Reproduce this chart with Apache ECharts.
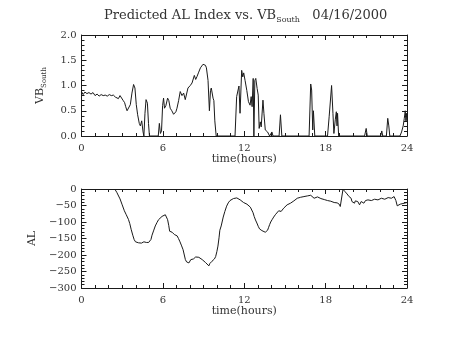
<!DOCTYPE html>
<html>
<head>
<meta charset="utf-8">
<script src="https://cdn.jsdelivr.net/npm/echarts@6/dist/echarts.min.js"></script>
<style>
  html, body { margin: 0; padding: 0; background: #fff; }
  #chart { width: 454px; height: 341px; }
</style>
</head>
<body>
<div id="chart"></div>
<script>
// Southward IMF component (VB_South), hours since 00 UT
const vbHours = [
  0.00, 0.12, 0.25, 0.40, 0.55, 0.70, 0.85, 1.00, 1.15, 1.30, 1.45, 1.60, 1.75, 1.90, 2.05, 2.20,
  2.35, 2.50, 2.62, 2.72, 2.84, 2.95, 3.08, 3.18, 3.26, 3.36, 3.48, 3.60, 3.72, 3.84, 3.94, 4.04,
  4.14, 4.26, 4.34, 4.44, 4.54, 4.60, 4.68, 4.76, 4.86, 4.94, 5.01, 5.66, 5.74, 5.82, 5.90, 5.98,
  6.05, 6.12, 6.22, 6.35, 6.44, 6.54, 6.66, 6.79, 6.86, 6.96, 7.04, 7.16, 7.28, 7.41, 7.53, 7.65,
  7.73, 7.85, 8.02, 8.15, 8.25, 8.32, 8.42, 8.52, 8.62, 8.77, 8.96, 9.06, 9.14, 9.21, 9.33, 9.43,
  9.51, 9.57, 9.63, 9.70, 9.76, 9.83, 9.93,
  11.32, 11.44, 11.61, 11.69, 11.81, 11.89, 11.96, 12.06, 12.19, 12.31, 12.43, 12.51, 12.58, 12.66,
  12.71, 12.78, 12.85, 12.95, 13.03, 13.10, 13.18, 13.25, 13.38, 13.45, 13.55, 13.72, 13.87, 14.04,
  14.12, 14.57, 14.67, 14.77,
  16.78, 16.90, 16.97, 17.05, 17.10, 17.20,
  18.14, 18.26, 18.44, 18.54, 18.61, 18.71, 18.79, 18.84, 18.88, 18.96,
  20.87, 20.99, 21.07,
  22.06, 22.14, 22.21, 22.48, 22.58, 22.66, 22.73,
  23.48, 23.60, 23.72, 23.80, 23.87, 23.92, 23.97, 24.00
];
const vbSouth = [
  0.88, 0.82, 0.87, 0.84, 0.86, 0.83, 0.86, 0.80, 0.83, 0.79, 0.82, 0.80, 0.81, 0.79, 0.82, 0.80,
  0.81, 0.77, 0.79, 0.74, 0.80, 0.78, 0.70, 0.66, 0.58, 0.50, 0.47, 0.62, 0.85, 1.02, 0.95, 0.62,
  0.42, 0.25, 0.20, 0.30, 0.08, 0.00, 0.45, 0.72, 0.65, 0.25, 0.00, 0.00, 0.25, 0.05, 0.10, 0.60,
  0.75, 0.55, 0.60, 0.75, 0.70, 0.55, 0.50, 0.43, 0.40, 0.48, 0.55, 0.70, 0.88, 0.80, 0.85, 0.72,
  0.72, 0.95, 1.00, 1.05, 1.08, 1.20, 1.12, 1.18, 1.25, 1.35, 1.42, 1.45, 1.40, 1.35, 1.10, 0.50,
  0.90, 0.95, 0.93, 0.75, 0.70, 0.30, 0.00,
  0.00, 0.78, 0.99, 0.45, 1.30, 1.17, 1.25, 1.10, 0.90, 0.68, 0.61, 0.78, 0.58, 1.14,
  0.00, 1.10, 1.14, 0.94, 0.81, 0.15, 0.28, 0.18, 0.71, 0.45, 0.12, 0.08, 0.00, 0.08,
  0.00, 0.00, 0.42, 0.00,
  0.00, 1.03, 0.91, 0.12, 0.50, 0.00,
  0.00, 0.38, 1.00, 0.45, 0.05, 0.32, 0.48, 0.20, 0.45, 0.00,
  0.00, 0.15, 0.00,
  0.00, 0.10, 0.00, 0.00, 0.35, 0.20, 0.00,
  0.00, 0.08, 0.20, 0.35, 0.50, 0.30, 0.45, 0.30
];

// Predicted AL index (nT)
const alHours = [
  2.45, 2.60, 2.84, 3.00, 3.16, 3.30, 3.46, 3.56, 3.66, 3.78, 3.88, 3.98, 4.08, 4.20, 4.33, 4.42,
  4.52, 4.60, 4.70, 4.78, 4.87, 4.95, 5.02, 5.12, 5.20, 5.31, 5.44, 5.56, 5.68, 5.81, 5.94, 6.06,
  6.18, 6.28, 6.35, 6.43, 6.50, 6.58, 6.68, 6.76, 6.85, 6.95, 7.05, 7.15, 7.24, 7.36, 7.49, 7.58,
  7.66, 7.75, 7.84, 7.92, 7.98, 8.06, 8.16, 8.25, 8.33, 8.42, 8.53, 8.65, 8.77, 8.90, 9.02, 9.15,
  9.27, 9.39, 9.46, 9.52, 9.62, 9.71, 9.80, 9.89, 9.98, 10.06, 10.14, 10.20, 10.30, 10.45, 10.57, 10.70,
  10.82, 10.95, 11.07, 11.20, 11.32, 11.45, 11.56, 11.70, 11.81, 11.95, 12.06, 12.20, 12.31, 12.45, 12.56, 12.65,
  12.73, 12.83, 12.93, 13.03, 13.13, 13.22, 13.30, 13.42, 13.55, 13.64, 13.72, 13.80, 13.87, 13.95, 14.05, 14.17,
  14.29, 14.42, 14.54, 14.63, 14.72, 14.82, 14.91, 15.04, 15.16, 15.28, 15.41, 15.53, 15.66, 15.78, 15.91, 16.03,
  16.16, 16.28, 16.40, 16.52, 16.65, 16.78, 16.90, 17.02, 17.15, 17.27, 17.40, 17.52, 17.65, 17.77, 17.90, 18.02,
  18.14, 18.26, 18.38, 18.51, 18.63, 18.76, 18.85, 18.93, 19.00, 19.08, 19.18, 19.28, 19.36, 19.43, 19.50, 19.58,
  19.66, 19.73, 19.80, 19.88, 19.94, 20.00, 20.07, 20.13, 20.19, 20.25, 20.31, 20.37, 20.44, 20.50, 20.56, 20.62,
  20.72, 20.82, 20.94, 21.03, 21.12, 21.25, 21.37, 21.49, 21.61, 21.74, 21.86, 21.98, 22.11, 22.24, 22.36, 22.48,
  22.61, 22.73, 22.85, 22.95, 23.05, 23.12, 23.18, 23.28, 23.34, 23.40, 23.50, 23.60, 23.70, 23.80, 23.90, 24.00
];
const alIndex = [
  0, -10, -30, -48, -66, -78, -92, -105, -122, -140, -153, -160, -162, -163, -161, -164,
  -165, -160, -157, -162, -164, -162, -166, -153, -140, -127, -112, -102, -93, -87, -83, -80,
  -78, -83, -93, -110, -128, -130, -131, -135, -138, -140, -142, -150, -158, -170, -184, -200,
  -214, -221, -224, -224, -221, -214, -210, -212, -211, -206, -205, -207, -209, -214, -219, -223,
  -228, -233, -226, -222, -219, -216, -212, -205, -190, -173, -148, -125, -112, -85, -68, -52,
  -42, -35, -31, -29, -27, -27, -29, -33, -37, -41, -43, -46, -49, -55, -60, -72,
  -83, -94, -103, -113, -121, -124, -126, -129, -131, -129, -125, -116, -108, -100, -93, -85,
  -78, -72, -66, -65, -68, -62, -58, -53, -48, -45, -43, -40, -36, -32, -28, -26,
  -25, -24, -23, -22, -21, -20, -19, -22, -28, -23, -24, -26, -29, -31, -32, -33,
  -35, -36, -37, -38, -41, -43, -42, -41, -46, -53, -51, -1, -5, -8, -11, -15,
  -19, -23, -26, -28, -38, -43, -44, -43, -36, -31, -34, -38, -44, -48, -43, -38,
  -40, -43, -35, -33, -33, -35, -35, -33, -31, -33, -33, -30, -28, -30, -31, -28,
  -26, -27, -28, -25, -23, -27, -35, -51, -48, -45, -46, -45, -44, -43, -42, -41
];

const FONT = 'DejaVu Serif';
const INK = '#1a1a1a';
const TEXT = '#333';

const pairs = (xs, ys) => xs.map((x, i) => [x, ys[i]]);

function timeAxis(gridIndex, position, withLabels) {
  return {
    type: 'value', gridIndex, position,
    min: 0, max: 24, interval: 6,
    axisLine: { show: true, onZero: false, lineStyle: { color: INK, width: 1 } },
    axisTick: { show: true, inside: true, length: 5, lineStyle: { color: INK } },
    minorTick: { show: true, splitNumber: 6, length: 3, lineStyle: { color: INK } },
    splitLine: { show: false },
    axisLabel: { show: withLabels, margin: 7, fontFamily: FONT, fontSize: 10, color: TEXT },
    name: withLabels ? 'time(hours)' : '',
    nameLocation: 'middle', nameGap: 18,
    nameTextStyle: { fontFamily: FONT, fontSize: 11, color: TEXT }
  };
}

function valueAxis(gridIndex, position, range, withLabels, extra) {
  return Object.assign({
    type: 'value', gridIndex, position,
    min: range[0], max: range[1], interval: range[2],
    axisLine: { show: true, onZero: false, lineStyle: { color: INK, width: 1 } },
    axisTick: { show: true, inside: true, length: 5, lineStyle: { color: INK } },
    minorTick: { show: true, splitNumber: 5, length: 3, lineStyle: { color: INK } },
    splitLine: { show: false },
    axisLabel: { show: withLabels, margin: 5, fontFamily: FONT, fontSize: 10, color: TEXT }
  }, extra || {});
}

const chart = echarts.init(document.getElementById('chart'), null, { renderer: 'canvas' });

chart.setOption({
  animation: false,
  backgroundColor: '#fff',
  title: {
    text: '{a|Predicted AL Index vs. VB}{s|South}{a|   04/16/2000}',
    left: 99, top: 4,
    textStyle: {
      fontWeight: 'normal',
      rich: {
        a: { fontFamily: FONT, fontSize: 13, fontWeight: 'normal', color: TEXT, lineHeight: 15, verticalAlign: 'top' },
        s: { fontFamily: FONT, fontSize: 8, fontWeight: 'normal', color: TEXT, lineHeight: 8, verticalAlign: 'bottom', padding: [10, 0, 0, 0] }
      }
    }
  },
  grid: [
    { left: 81.5, width: 325.5, top: 35, height: 101 },
    { left: 81.5, width: 325.5, top: 189, height: 99 }
  ],
  xAxis: [
    timeAxis(0, 'bottom', true),
    timeAxis(0, 'top', false),
    timeAxis(1, 'bottom', true),
    timeAxis(1, 'top', false)
  ],
  yAxis: [
    valueAxis(0, 'left', [0, 2, 0.5], true, {
      axisLabel: { show: true, margin: 5, fontFamily: FONT, fontSize: 10, color: TEXT,
        formatter: v => v.toFixed(1) },
      name: '{a|VB}{s|South}', nameLocation: 'middle', nameRotate: 90, nameGap: 34,
      nameTextStyle: {
        rich: {
          a: { fontFamily: FONT, fontSize: 11, color: TEXT, lineHeight: 13, verticalAlign: 'top' },
          s: { fontFamily: FONT, fontSize: 7, color: TEXT, lineHeight: 7, verticalAlign: 'bottom', padding: [9, 0, 0, 0] }
        }
      }
    }),
    valueAxis(0, 'right', [0, 2, 0.5], false),
    valueAxis(1, 'left', [-300, 0, 50], true, {
      axisLabel: { show: true, margin: 5, fontFamily: FONT, fontSize: 10, color: TEXT,
        formatter: v => (v < 0 ? '\u2212' + Math.abs(v) : String(v)) },
      name: 'AL', nameLocation: 'middle', nameRotate: 90, nameGap: 32,
      nameTextStyle: { fontFamily: FONT, fontSize: 11, color: TEXT }
    }),
    valueAxis(1, 'right', [-300, 0, 50], false)
  ],
  series: [
    {
      type: 'line', xAxisIndex: 0, yAxisIndex: 0,
      data: pairs(vbHours, vbSouth),
      showSymbol: false, clip: true,
      lineStyle: { color: INK, width: 1 }
    },
    {
      type: 'line', xAxisIndex: 2, yAxisIndex: 2,
      data: pairs(alHours, alIndex),
      showSymbol: false, clip: true,
      lineStyle: { color: INK, width: 1 }
    }
  ]
});
</script>
</body>
</html>
